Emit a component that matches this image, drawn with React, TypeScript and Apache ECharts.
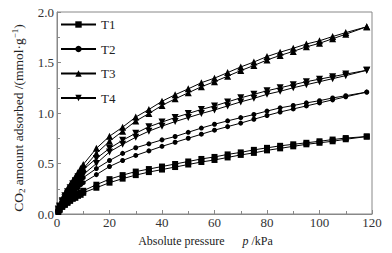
import React, { useEffect, useRef } from "react";
import * as echarts from "echarts";

// Pressure points (kPa)
const pressureKPa = [0.5, 1, 2, 3, 4, 5, 6, 7, 8, 9, 10, 15, 20, 25, 30, 35, 40, 45, 50, 55, 60, 65, 70, 75, 80, 85, 90, 95, 100, 105, 110, 118];

// CO2 amount adsorbed (mmol/g): upper branch and lower branch of each sample
const t1Upper = [0.03, 0.05, 0.08, 0.1, 0.12, 0.14, 0.16, 0.18, 0.2, 0.21, 0.23, 0.29, 0.345, 0.385, 0.42, 0.445, 0.47, 0.495, 0.52, 0.545, 0.565, 0.59, 0.61, 0.635, 0.655, 0.675, 0.69, 0.705, 0.72, 0.737, 0.752, 0.767];
const t1Lower = [0.02, 0.04, 0.07, 0.09, 0.11, 0.13, 0.15, 0.16, 0.18, 0.19, 0.21, 0.26, 0.31, 0.35, 0.385, 0.415, 0.44, 0.465, 0.49, 0.515, 0.535, 0.56, 0.585, 0.605, 0.63, 0.65, 0.67, 0.69, 0.705, 0.72, 0.74, 0.767];
const t2Upper = [0.04, 0.07, 0.11, 0.15, 0.18, 0.21, 0.24, 0.27, 0.3, 0.33, 0.36, 0.45, 0.53, 0.6, 0.656, 0.695, 0.734, 0.767, 0.809, 0.851, 0.889, 0.922, 0.954, 0.985, 1.019, 1.051, 1.074, 1.1, 1.122, 1.149, 1.171, 1.207];
const t2Lower = [0.03, 0.06, 0.1, 0.13, 0.16, 0.19, 0.21, 0.24, 0.26, 0.29, 0.31, 0.39, 0.47, 0.53, 0.58, 0.625, 0.67, 0.71, 0.75, 0.79, 0.83, 0.865, 0.9, 0.938, 0.975, 1.01, 1.04, 1.07, 1.1, 1.13, 1.16, 1.207];
const t3Upper = [0.06, 0.09, 0.15, 0.2, 0.25, 0.29, 0.33, 0.37, 0.41, 0.45, 0.49, 0.65, 0.77, 0.86, 0.96, 1.035, 1.116, 1.181, 1.239, 1.3, 1.345, 1.4, 1.456, 1.505, 1.559, 1.602, 1.641, 1.683, 1.715, 1.757, 1.796, 1.854];
const t3Lower = [0.05, 0.08, 0.13, 0.18, 0.22, 0.26, 0.3, 0.34, 0.38, 0.41, 0.45, 0.6, 0.72, 0.82, 0.92, 0.995, 1.075, 1.14, 1.2, 1.26, 1.31, 1.365, 1.42, 1.47, 1.525, 1.57, 1.61, 1.655, 1.69, 1.735, 1.78, 1.854];
const t4Upper = [0.05, 0.08, 0.13, 0.18, 0.22, 0.26, 0.3, 0.33, 0.37, 0.4, 0.44, 0.55, 0.65, 0.73, 0.8, 0.864, 0.91, 0.955, 0.995, 1.035, 1.07, 1.11, 1.15, 1.185, 1.22, 1.25, 1.28, 1.31, 1.335, 1.36, 1.385, 1.423];
const t4Lower = [0.04, 0.07, 0.12, 0.16, 0.2, 0.23, 0.27, 0.3, 0.33, 0.36, 0.39, 0.5, 0.615, 0.69, 0.76, 0.82, 0.87, 0.915, 0.955, 0.995, 1.03, 1.07, 1.11, 1.145, 1.185, 1.215, 1.25, 1.28, 1.31, 1.34, 1.37, 1.423];

const legendNames = ["T1", "T2", "T3", "T4"];
const xTicks = [0, 20, 40, 60, 80, 100, 120];
const yTicks = ["0.0", "0.5", "1.0", "1.5", "2.0"];

const FONT = "'Liberation Serif', 'Times New Roman', serif";

const pairs = (ys: number[]) => pressureKPa.map((x, i) => [x, ys[i]]);

const symbolOf: Record<string, { symbol: string; size: number | number[] }> = {
  T1: { symbol: "rect", size: 6 },
  T2: { symbol: "circle", size: 5 },
  T3: { symbol: "triangle", size: 7 },
  T4: { symbol: "path://M0,0L10,0L5,9Z", size: 7 },
};

export default function App() {
  const ref = useRef<HTMLDivElement>(null);
  useEffect(() => {
    if (!ref.current) return;
    const chart = echarts.init(ref.current, null, { renderer: "svg" });
    const branches: [string, number[]][] = [
      ["T1", t1Upper], ["T1", t1Lower],
      ["T2", t2Upper], ["T2", t2Lower],
      ["T3", t3Upper], ["T3", t3Lower],
      ["T4", t4Upper], ["T4", t4Lower],
    ];
    const series = branches.map(([name, ys]) => ({
      name,
      type: "line",
      data: pairs(ys),
      symbol: symbolOf[name].symbol,
      symbolSize: symbolOf[name].size,
      showAllSymbol: true,
      lineStyle: { color: "#000", width: 1 },
      itemStyle: { color: "#000", borderWidth: 0 },
      emphasis: { disabled: true },
    }));
    chart.setOption({
      animation: false,
      backgroundColor: "#fff",
      grid: {
        left: 57, right: 20, top: 12, bottom: 35,
        show: true, borderColor: "#888", borderWidth: 1,
      },
      legend: {
        data: legendNames,
        orient: "vertical",
        left: 60,
        top: 18,
        padding: 0,
        itemWidth: 35,
        itemHeight: 8,
        itemGap: 11.5,
        textStyle: { fontFamily: FONT, fontSize: 13, color: "#222" },
        selectedMode: false,
      },
      xAxis: {
        type: "value",
        min: 0, max: 120, interval: 20,
        axisLine: { show: true, lineStyle: { color: "#888" } },
        axisTick: { show: true, inside: true, length: 4, lineStyle: { color: "#888" } },
        minorTick: { show: true, splitNumber: 2, length: 3, lineStyle: { color: "#888" } },
        splitLine: { show: false },
        axisLabel: {
          fontFamily: FONT, fontSize: 13, color: "#333", margin: 2,
          formatter: (v: number) => (xTicks.includes(v) ? String(v) : ""),
        },
        name: "Absolute pressure{i|p} /kPa",
        nameLocation: "middle",
        nameGap: 20,
        nameTextStyle: {
          fontFamily: FONT, fontSize: 12, color: "#222", lineHeight: 14,
          padding: [0, 18, 0, 0],
          rich: { i: { fontFamily: FONT, fontSize: 12, fontStyle: "italic", color: "#222", lineHeight: 14, padding: [0, 0, 0, 18] } },
        },
      },
      yAxis: {
        type: "value",
        min: 0, max: 2, interval: 0.5,
        axisLine: { show: true, lineStyle: { color: "#888" } },
        axisTick: { show: true, inside: true, length: 4, lineStyle: { color: "#888" } },
        minorTick: { show: true, splitNumber: 2, length: 3, lineStyle: { color: "#888" } },
        splitLine: { show: false },
        axisLabel: {
          fontFamily: FONT, fontSize: 13, color: "#333", margin: 3,
          formatter: (v: number) => yTicks[Math.round(v / 0.5)] ?? "",
        },
        name: "CO{sub|2} amount adsorbed /(mmol·g{sup|−1})",
        nameLocation: "middle",
        nameRotate: 90,
        nameGap: 23,
        nameTextStyle: {
          fontFamily: FONT, fontSize: 13.5, color: "#222", lineHeight: 16,
          padding: [0, 10, 0, 0],
          rich: {
            sub: { fontFamily: FONT, fontSize: 9, color: "#222", verticalAlign: "bottom", lineHeight: 10 },
            sup: { fontFamily: FONT, fontSize: 9, color: "#222", verticalAlign: "top", lineHeight: 10 },
          },
        },
      },
      series,
    });
    return () => chart.dispose();
  }, []);
  return (
    <div
      ref={ref}
      style={{ position: "fixed", left: 0, top: 0, width: 392, height: 253 }}
    />
  );
}
